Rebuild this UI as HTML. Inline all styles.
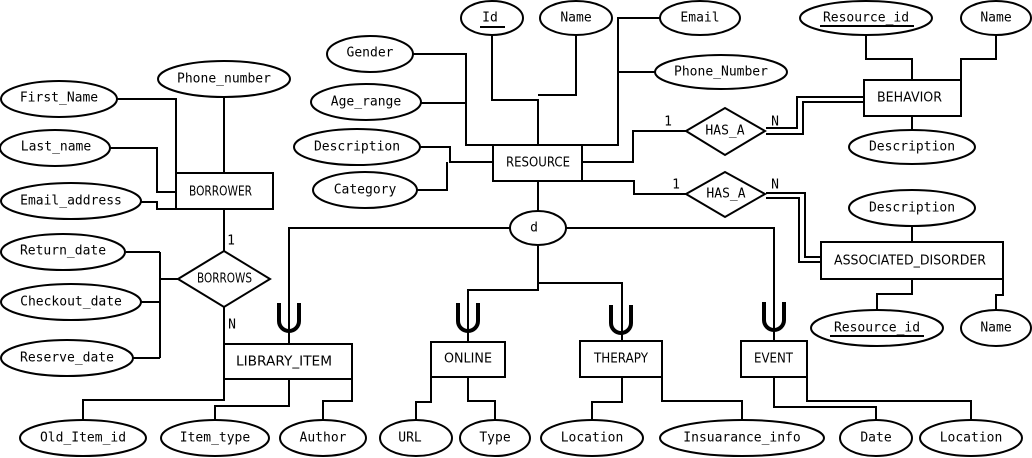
<!DOCTYPE html>
<html><head><meta charset="utf-8"><style>
html,body{margin:0;padding:0;background:#fff;}
svg{display:block}
.a{font-family:"DejaVu Sans Mono","Liberation Mono",monospace;font-size:13px;fill:#000;text-anchor:middle;dominant-baseline:central}
.e{font-family:"DejaVu Sans","Liberation Sans",sans-serif;font-size:13px;fill:#000;dominant-baseline:central}
</style></head><body>
<svg width="1032" height="458" viewBox="0 0 1032 458" xmlns="http://www.w3.org/2000/svg">
<g fill="none" stroke="#000" stroke-width="2">
<polyline points="413,54 466,54 466,145 493,145"/>
<polyline points="420,103 466,103"/>
<polyline points="492,36 492,100 538,100 538,145"/>
<polyline points="576,36 576,95 538,95"/>
<polyline points="660,18 618,18 618,145 582,145"/>
<polyline points="655,72 618,72"/>
<polyline points="420,147 450,147 450,162 493,162"/>
<polyline points="416,190 447,190 447,162"/>
<polyline points="582,162 633,162 633,131 686,131"/>
<polyline points="766,128 797,128 797,97 864,97"/>
<polyline points="766,134 803,134 803,102 864,102"/>
<polyline points="582,181 634,181 634,194 686,194"/>
<polyline points="766,193 805,193 805,257 821,257"/>
<polyline points="766,198 799,198 799,262 821,262"/>
<polyline points="866,36 866,59 912,59 912,80"/>
<polyline points="996,36 996,59 961,59 961,80"/>
<polyline points="912,116 912,130"/>
<polyline points="912,226 912,242"/>
<polyline points="877,311 877,294 912,294 912,279"/>
<polyline points="996,311 996,295 1003,295 1003,279"/>
<polyline points="117,99 176,99 176,173"/>
<polyline points="224,97 224,173"/>
<polyline points="110,148 157,148 157,192 176,192"/>
<polyline points="141,202 157,202 157,209 176,209"/>
<polyline points="224,209 224,251"/>
<polyline points="224,307 224,344"/>
<polyline points="178,279 160,279"/>
<polyline points="160,252 160,358"/>
<polyline points="126,252 160,252"/>
<polyline points="141,302 160,302"/>
<polyline points="133,358 160,358"/>
<polyline points="538,181 538,211"/>
<polyline points="510,228 289,228 289,344"/>
<polyline points="566,228 774,228 774,341"/>
<polyline points="538,246 538,290 468,290 468,342"/>
<polyline points="538,283 622,283 622,341"/>
<polyline points="83,421 83,400 224,400 224,379"/>
<polyline points="215,421 215,406 289,406 289,379"/>
<polyline points="323,421 323,401 352,401 352,379"/>
<polyline points="416,421 416,402 431,402 431,377"/>
<polyline points="495,421 495,401 468,401 468,377"/>
<polyline points="592,421 592,402 622,402 622,377"/>
<polyline points="742,421 742,401 662,401 662,377"/>
<polyline points="876,421 876,407 774,407 774,377"/>
<polyline points="971,421 971,401 807,401 807,377"/>
</g>
<g fill="none" stroke="#000" stroke-width="4">
<path d="M279,303 V321 A10,10 0 0 0 299,321 V303"/>
<path d="M458,303 V321 A10,10 0 0 0 478,321 V303"/>
<path d="M611,305 V323 A10,10 0 0 0 631,323 V305"/>
<path d="M764,302 V320 A10,10 0 0 0 784,320 V302"/>
</g>
<g fill="#fff" stroke="#000" stroke-width="2">
<ellipse cx="492" cy="18" rx="31" ry="17"/>
<ellipse cx="576" cy="18" rx="36" ry="17"/>
<ellipse cx="700" cy="18" rx="40" ry="17"/>
<ellipse cx="721" cy="72" rx="66" ry="17"/>
<ellipse cx="370" cy="54" rx="43" ry="18"/>
<ellipse cx="366" cy="102" rx="55" ry="18"/>
<ellipse cx="357" cy="147" rx="63" ry="18"/>
<ellipse cx="365" cy="190" rx="52" ry="18"/>
<ellipse cx="224" cy="79" rx="66" ry="18"/>
<ellipse cx="59" cy="99" rx="58" ry="18"/>
<ellipse cx="55" cy="148" rx="55" ry="18"/>
<ellipse cx="71" cy="201" rx="70" ry="18"/>
<ellipse cx="63" cy="252" rx="62" ry="18"/>
<ellipse cx="71" cy="302" rx="70" ry="18"/>
<ellipse cx="67" cy="358" rx="66" ry="18"/>
<ellipse cx="866" cy="18" rx="66" ry="17"/>
<ellipse cx="996" cy="18" rx="35" ry="17"/>
<ellipse cx="912" cy="147" rx="63" ry="17"/>
<ellipse cx="912" cy="208" rx="63" ry="18"/>
<ellipse cx="877" cy="328" rx="66" ry="18"/>
<ellipse cx="996" cy="328" rx="35" ry="18"/>
<ellipse cx="83" cy="438" rx="63" ry="18"/>
<ellipse cx="215" cy="438" rx="54" ry="18"/>
<ellipse cx="323" cy="438" rx="43" ry="18"/>
<ellipse cx="416" cy="438" rx="36" ry="18"/>
<ellipse cx="495" cy="438" rx="35" ry="18"/>
<ellipse cx="592" cy="438" rx="51" ry="18"/>
<ellipse cx="742" cy="438" rx="82" ry="18"/>
<ellipse cx="876" cy="438" rx="36" ry="18"/>
<ellipse cx="971" cy="438" rx="51" ry="18"/>
<ellipse cx="538" cy="228" rx="28" ry="17"/>
<rect x="176" y="173" width="97" height="36"/>
<rect x="493" y="145" width="89" height="36"/>
<rect x="864" y="80" width="97" height="36"/>
<rect x="821" y="242" width="182" height="37"/>
<rect x="224" y="344" width="128" height="35"/>
<rect x="431" y="342" width="74" height="35"/>
<rect x="580" y="341" width="82" height="36"/>
<rect x="741" y="341" width="66" height="36"/>
<polygon points="178,279 224,251 270,279 224,307"/>
<polygon points="686,131 725,108 765,131 725,155"/>
<polygon points="686,194 725,172 765,194 725,217"/>
</g>
<g stroke="#000" stroke-width="2">
<line x1="480" y1="27" x2="505" y2="27"/>
<line x1="820" y1="26" x2="914" y2="26"/>
<line x1="830" y1="336" x2="924" y2="336"/>
</g>
<text class="a" x="490" y="18">Id</text>
<text class="a" x="576" y="18">Name</text>
<text class="a" x="700" y="18">Email</text>
<text class="a" x="721" y="72">Phone_Number</text>
<text class="a" x="370" y="53">Gender</text>
<text class="a" x="366" y="102">Age_range</text>
<text class="a" x="357" y="147">Description</text>
<text class="a" x="365" y="190">Category</text>
<text class="a" x="224" y="79">Phone_number</text>
<text class="a" x="59" y="98">First_Name</text>
<text class="a" x="56" y="147">Last_name</text>
<text class="a" x="71" y="201">Email_address</text>
<text class="a" x="63" y="251">Return_date</text>
<text class="a" x="71" y="302">Checkout_date</text>
<text class="a" x="67" y="358">Reserve_date</text>
<text class="a" x="866" y="18">Resource_id</text>
<text class="a" x="996" y="18">Name</text>
<text class="a" x="912" y="147">Description</text>
<text class="a" x="912" y="208">Description</text>
<text class="a" x="877" y="328">Resource_id</text>
<text class="a" x="996" y="328">Name</text>
<text class="a" x="83" y="438">Old_Item_id</text>
<text class="a" x="215" y="438">Item_type</text>
<text class="a" x="323" y="438">Author</text>
<text class="a" x="410" y="438">URL</text>
<text class="a" x="495" y="438">Type</text>
<text class="a" x="592" y="438">Location</text>
<text class="a" x="742" y="438">Insuarance_info</text>
<text class="a" x="876" y="438">Date</text>
<text class="a" x="971" y="438">Location</text>
<text class="a" x="534" y="228">d</text>
<text class="a" x="668" y="122">1</text>
<text class="a" x="775" y="122">N</text>
<text class="a" x="676" y="185">1</text>
<text class="a" x="775" y="185">N</text>
<text class="a" x="231" y="241">1</text>
<text class="a" x="232" y="325">N</text>
<text class="e" x="189" y="192" textLength="63" lengthAdjust="spacingAndGlyphs">BORROWER</text>
<text class="e" x="506" y="163" textLength="64" lengthAdjust="spacingAndGlyphs">RESOURCE</text>
<text class="e" x="877" y="98" textLength="65" lengthAdjust="spacingAndGlyphs">BEHAVIOR</text>
<text class="e" x="834" y="261" textLength="152" lengthAdjust="spacingAndGlyphs">ASSOCIATED_DISORDER</text>
<text class="e" x="236" y="362" textLength="96" lengthAdjust="spacingAndGlyphs">LIBRARY_ITEM</text>
<text class="e" x="444" y="359" textLength="48" lengthAdjust="spacingAndGlyphs">ONLINE</text>
<text class="e" x="594" y="359" textLength="54" lengthAdjust="spacingAndGlyphs">THERAPY</text>
<text class="e" x="754" y="359" textLength="39" lengthAdjust="spacingAndGlyphs">EVENT</text>
<text class="e" x="197" y="279" textLength="55" lengthAdjust="spacingAndGlyphs">BORROWS</text>
<text class="a" x="725" y="131">HAS_A</text>
<text class="a" x="726" y="194">HAS_A</text>
</svg>
</body></html>
